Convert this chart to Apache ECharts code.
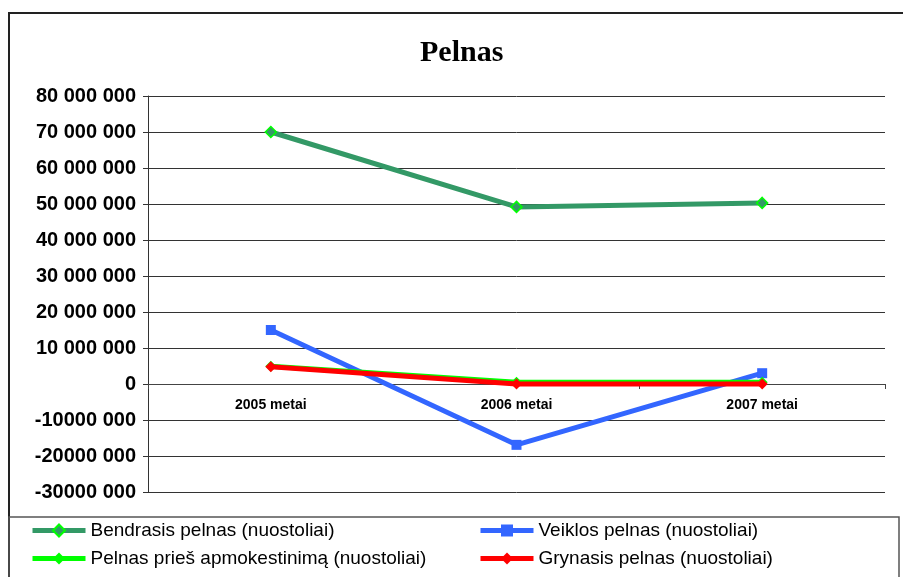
<!DOCTYPE html>
<html>
<head>
<meta charset="utf-8">
<script src="https://cdn.jsdelivr.net/npm/echarts@6/dist/echarts.min.js"></script>
<style>
  html, body { margin: 0; padding: 0; background: #fff; }
  #chart { width: 903px; height: 577px; }
</style>
</head>
<body>
<div id="chart"></div>
<script>
// values
const years = ['2005 metai', '2006 metai', '2007 metai']
const seriesNames = [
  'Bendrasis pelnas (nuostoliai)',
  'Veiklos pelnas (nuostoliai)',
  'Pelnas prieš apmokestinimą (nuostoliai)',
  'Grynasis pelnas (nuostoliai)'
]
const bendrasis = [70000000, 49200000, 50300000]
const veiklos = [15000000, -16900000, 3000000]
const priesApmok = [4900000, 500000, 500000]
const grynasis = [4800000, 0, 0]

// excel style: 10 000 000 but -10000 000
const fmtY = (v) => {
  let s = Math.abs(v).toString().replace(/\B(?=(\d{3})+(?!\d))/g, ' ')
  if (v < 0) s = '-' + s.replace(' ', '')
  return s
}

const chart = echarts.init(document.getElementById('chart'))

const legendAt = (name, left, top) => ({
  data: [name],
  left: left,
  top: top,
  padding: 0,
  itemWidth: 53,
  itemHeight: 15,
  lineStyle: { width: 5 },
  textStyle: { fontFamily: 'Arial, Liberation Sans', fontSize: 19, color: '#000' }
})

const option = {
  animation: false,
  backgroundColor: '#fff',
  title: {
    text: 'Pelnas',
    left: 415,
    top: 33,
    textStyle: { fontFamily: 'Times New Roman, Liberation Serif', fontWeight: 'bold', fontSize: 30, color: '#000' }
  },
  graphic: [
    { type: 'rect', shape: { x: 9, y: 13, width: 910, height: 600 }, style: { fill: 'none', stroke: '#222', lineWidth: 2 }, silent: true },
    { type: 'rect', shape: { x: 9, y: 517, width: 890, height: 80 }, style: { fill: 'none', stroke: '#555', lineWidth: 1.5 }, silent: true }
  ],
  legend: [
    legendAt(seriesNames[0], 30, 521),
    legendAt(seriesNames[1], 478, 521),
    legendAt(seriesNames[2], 30, 549),
    legendAt(seriesNames[3], 478, 549)
  ],
  grid: { left: 148, right: 18, top: 96, bottom: 85 },
  xAxis: {
    type: 'category',
    data: years,
    boundaryGap: true,
    offset: -108, // sit the axis on the zero line
    axisLine: { onZero: false, lineStyle: { color: '#444', width: 1 } },
    axisTick: { show: true, alignWithLabel: false, length: 5, lineStyle: { color: '#444' } },
    axisLabel: { margin: 14, fontFamily: 'Arial, Liberation Sans', fontWeight: 'bold', fontSize: 14, color: '#000' },
    splitLine: { show: false }
  },
  yAxis: {
    type: 'value',
    min: -30000000,
    max: 80000000,
    interval: 10000000,
    axisLine: { show: true, lineStyle: { color: '#333', width: 1 } },
    axisTick: { show: true, length: 5, lineStyle: { color: '#333' } },
    axisLabel: { formatter: fmtY, margin: 12, fontFamily: 'Arial, Liberation Sans', fontWeight: 'bold', fontSize: 20, color: '#000' },
    splitLine: { show: true, lineStyle: { color: '#333', width: 1 } }
  },
  series: [
    {
      name: seriesNames[0], type: 'line', data: bendrasis,
      symbol: 'diamond', symbolSize: 11,
      lineStyle: { color: '#339966', width: 5 },
      itemStyle: { color: '#339966', borderColor: '#00ff00', borderWidth: 1.5 },
      z: 2
    },
    {
      name: seriesNames[1], type: 'line', data: veiklos,
      symbol: 'rect', symbolSize: 10,
      lineStyle: { color: '#3366ff', width: 5 },
      itemStyle: { color: '#3366ff' },
      z: 3
    },
    {
      name: seriesNames[2], type: 'line', data: priesApmok,
      symbol: 'diamond', symbolSize: 11,
      lineStyle: { color: '#00ff00', width: 5 },
      itemStyle: { color: '#00ff00' },
      z: 4
    },
    {
      name: seriesNames[3], type: 'line', data: grynasis,
      symbol: 'diamond', symbolSize: 11,
      lineStyle: { color: '#ff0000', width: 5 },
      itemStyle: { color: '#ff0000' },
      z: 5
    }
  ]
}

chart.setOption(option)
</script>
</body>
</html>
